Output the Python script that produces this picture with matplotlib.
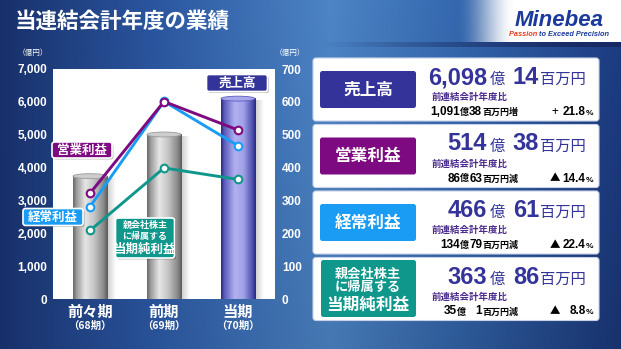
"""当連結会計年度の業績: 売上高(棒) と 各利益(折れ線) + 右側サマリー"""

import matplotlib
matplotlib.use('Agg')
import matplotlib.pyplot as plt
import numpy as np
from matplotlib.colors import LinearSegmentedColormap, to_rgb
from matplotlib.patches import Ellipse, FancyBboxPatch

plt.rcParams['font.family'] = ['Noto Sans CJK JP', 'DejaVu Sans']

W, H = 621, 349

# ---- data (億円) ----
periods = ['前々期', '前期', '当期']
period_nos = ['（68期）', '（69期）', '（70期）']
sales = [3739, 5007, 6098]
operating = [321.7, 601.0, 514.4]
ordinary = [281.0, 601.4, 466.6]
net_income = [208.5, 398.9, 363.9]

left_ticks = [0, 1000, 2000, 3000, 4000, 5000, 6000, 7000]
right_ticks = [0, 100, 200, 300, 400, 500, 600, 700]

card_labels = ['売上高', '営業利益', '経常利益', '当期純利益']
card_oku = ['6,098', '514', '466', '363']
card_man = ['14', '38', '61', '86']
diff_oku = ['1,091', '86', '134', '35']
diff_man = ['38', '63', '79', '1']
diff_word = ['増', '減', '減', '減']
diff_sign = ['+', '▲', '▲', '▲']
diff_pct = ['21.8', '14.4', '22.4', '8.8']

C_SALES = '#33339a'
C_OP = '#7d0a80'
C_ORD = '#1a9cf4'
C_NET = '#0f978c'
card_colors = [C_SALES, C_OP, C_ORD, C_NET]

fig = plt.figure(figsize=(W / 100, H / 100), dpi=100)

# ---- background ----
xs = np.arange(W)
stops_x = [0, 150, 330, 460, 621]
stops_c = [to_rgb(c) for c in ['#18306a', '#2a559e', '#4d85c6', '#3467ae', '#1d3c84']]
row = np.stack([np.interp(xs, stops_x, [c[k] for c in stops_c]) for k in range(3)], axis=1)
yy = np.linspace(0, 1, H)[:, None, None]
img = row[None, :, :] * (1.0 - 0.18 * yy * (xs[None, :, None] / W))
# white header behind the logo
fade = np.clip((xs - 455) / 60.0, 0, 1)
fade = fade * fade * (3 - 2 * fade)
img[:42] = img[:42] * (1 - fade[None, :, None]) + fade[None, :, None]
# thin dark band under the header, fading in from the middle
band_a = np.clip((xs - 320) / 260.0, 0, 1)[None, :, None] * 0.85
navy = np.array(to_rgb('#17275e'))
img[42:47] = img[42:47] * (1 - band_a) + navy * band_a

bg = fig.add_axes([0, 0, 1, 1], zorder=0)
bg.imshow(np.clip(img, 0, 1), extent=[0, W, H, 0], aspect='auto', interpolation='bilinear')
bg.set_xlim(0, W)
bg.set_ylim(H, 0)
bg.axis('off')

# ---- chart ----
ax = fig.add_axes([53 / W, 1 - 299 / H, 222 / W, 230 / H], zorder=1)
ax.set_facecolor('white')
ax.set_xlim(-0.5, 2.5)
ax.set_ylim(0, 7000)
for s in ax.spines.values():
    s.set_visible(False)

grey_cm = LinearSegmentedColormap.from_list('grey_cyl', [
    (0, '#6a6a6a'), (0.1, '#9c9c9c'), (0.35, '#e6e6e6'), (0.6, '#c6c6c6'),
    (0.88, '#8a8a8a'), (1, '#5c5c5c')])
blue_cm = LinearSegmentedColormap.from_list('blue_cyl', [
    (0, '#2e2e88'), (0.1, '#5e5ebe'), (0.4, '#b2b2f2'), (0.65, '#a0a0e6'),
    (0.88, '#5858b6'), (1, '#2a2a86')])
grad = np.linspace(0, 1, 64)[None, :]
shadow = np.zeros((1, 32, 4))
shadow[..., :3] = 0.55
shadow[..., 3] = np.linspace(0.45, 0, 32)

bw = 0.46
for i, v in enumerate(sales):
    cm = blue_cm if i == 2 else grey_cm
    ax.imshow(shadow, extent=[i + bw / 2, i + bw / 2 + 0.12, 0, v - 60],
              aspect='auto', interpolation='bilinear', zorder=1)
    ax.imshow(grad, cmap=cm, extent=[i - bw / 2, i + bw / 2, 0, v],
              aspect='auto', interpolation='bilinear', zorder=2)
    ax.add_patch(Ellipse((i, v), bw, 150, facecolor=cm(0.55), edgecolor=cm(0.1),
                         lw=0.6, zorder=3))
ax.set_xlim(-0.5, 2.5)
ax.set_ylim(0, 7000)

ax.set_xticks([])
ax.set_yticks(left_ticks)
ax.set_yticklabels([f'{t:,}' for t in left_ticks], family='Liberation Sans',
                   fontweight='bold', fontsize=8.5, color='white')
ax.tick_params(axis='y', length=0, pad=4)

for i, (p, n) in enumerate(zip(periods, period_nos)):
    ax.annotate(p, xy=(i, 0), xycoords=('data', 'axes fraction'), xytext=(0, -13),
                textcoords='offset pixels', ha='center', va='center', color='white',
                fontsize=11, fontweight='bold')
    ax.annotate(n, xy=(i, 0), xycoords=('data', 'axes fraction'), xytext=(0, -27),
                textcoords='offset pixels', ha='center', va='center', color='white',
                fontsize=7.5, fontweight='bold')

ax2 = ax.twinx()
ax2.set_zorder(2)
ax2.patch.set_visible(False)
ax2.set_ylim(0, 700)
for s in ax2.spines.values():
    s.set_visible(False)
ax2.set_yticks(right_ticks)
ax2.set_yticklabels([str(t) for t in right_ticks], family='Liberation Sans',
                    fontweight='bold', fontsize=8.5, color='white')
ax2.tick_params(axis='y', length=0, pad=5)

x = [0, 1, 2]
for vals, c in [(net_income, C_NET), (ordinary, C_ORD), (operating, C_OP)]:
    ax2.plot(x, vals, color=c, lw=2.1, marker='o', ms=5.5, mfc='white', mec=c,
             mew=1.5, zorder=5, solid_capstyle='round')

# ---- overlay in pixel coordinates ----
ov = fig.add_axes([0, 0, 1, 1], zorder=3)
ov.set_xlim(0, W)
ov.set_ylim(H, 0)
ov.axis('off')
ov.patch.set_alpha(0)

ov.text(15, 21, '当連結会計年度の業績', color='white', fontsize=15.5,
        fontweight='bold', va='center', ha='left')
ov.text(33, 53, '（億円）', color='white', fontsize=5.5, ha='center', va='center')
ov.text(290, 53, '（億円）', color='white', fontsize=5.5, ha='center', va='center')


def tag(cx, cy, w, h, color, lines):
    ov.add_patch(FancyBboxPatch((cx - w / 2 + 1.5, cy - h / 2 + 1.5), w, h,
                                boxstyle='round,pad=0,rounding_size=2.5',
                                facecolor='black', alpha=0.25, lw=0))
    ov.add_patch(FancyBboxPatch((cx - w / 2, cy - h / 2), w, h,
                                boxstyle='round,pad=0,rounding_size=2.5',
                                facecolor=color, edgecolor='white', lw=1.2))
    for dy, s, fs in lines:
        ov.text(cx, cy + dy, s, color='white', fontsize=fs, fontweight='bold',
                ha='center', va='center')


tag(237, 83, 61, 17, C_SALES, [(0, '売上高', 9)])
tag(82, 150, 60, 16, C_OP, [(0, '営業利益', 9)])
tag(53, 217, 60, 17, C_ORD, [(0, '経常利益', 9)])
tag(145, 238, 59, 40, C_NET, [(-13, '親会社株主', 6.5), (-1, 'に帰属する', 6.5),
                              (11, '当期純利益', 9)])

renderer = fig.canvas.get_renderer()


def chain(x, y, parts, ha='left', color='black'):
    """Draw text pieces of mixed size on one baseline."""
    items = []
    for s, fs, fam in parts:
        t = ov.text(0, y, s, fontsize=fs, family=fam, color=color,
                    fontweight='bold', va='baseline', ha='left')
        items.append((t, t.get_window_extent(renderer).width))
    total = sum(w for _, w in items)
    pos = x - total if ha == 'right' else x
    for t, w in items:
        t.set_x(pos)
        pos += w


JP = ['Noto Sans CJK JP', 'DejaVu Sans']
NUM = ['Liberation Sans', 'DejaVu Sans']

tops = [58, 124.5, 191, 257.5]
for k, top in enumerate(tops):
    ov.add_patch(FancyBboxPatch((313, top), 286, 63,
                                boxstyle='round,pad=0,rounding_size=3',
                                facecolor='white', edgecolor='#c8d2e6', lw=0.8))
    if k < 3:
        ov.add_patch(FancyBboxPatch((320, top + 13), 96, 37,
                                    boxstyle='round,pad=0,rounding_size=2.5',
                                    facecolor=card_colors[k], lw=0))
        ov.text(368, top + 31.5, card_labels[k], color='white', fontsize=12,
                fontweight='bold', ha='center', va='center')
    else:
        ov.add_patch(FancyBboxPatch((321, top + 2.5), 95, 57,
                                    boxstyle='round,pad=0,rounding_size=2.5',
                                    facecolor=card_colors[k], lw=0))
        ov.text(368, top + 16, '親会社株主', color='white', fontsize=9.5,
                fontweight='bold', ha='center', va='center')
        ov.text(368, top + 30, 'に帰属する', color='white', fontsize=9.5,
                fontweight='bold', ha='center', va='center')
        ov.text(368, top + 47, card_labels[k], color='white', fontsize=12,
                fontweight='bold', ha='center', va='center')

    base = top + 26
    ov.text(487, base, card_oku[k], color=C_SALES, fontsize=17, family=NUM,
            fontweight='bold', ha='right', va='baseline')
    ov.text(497.5, base, '億', color=C_SALES, fontsize=11, ha='center', va='baseline')
    ov.text(539, base, card_man[k], color=C_SALES, fontsize=17, family=NUM,
            fontweight='bold', ha='right', va='baseline')
    ov.text(540, base, '百万円', color=C_SALES, fontsize=11, ha='left', va='baseline')

    ov.text(432, top + 39, '前連結会計年度比', color='#4b2c8c', fontsize=6.8,
            fontweight='bold', ha='left', va='center')

    gap = '\u3000' if k == 3 else ''
    chain(518, top + 57, [(diff_oku[k], 8.5, NUM), ('億' + gap, 6.5, JP),
                          (diff_man[k], 8.5, NUM), ('百万円' + diff_word[k], 6.5, JP)],
          ha='right')
    ov.text(555, top + 57, diff_sign[k], fontsize=7.5 if k else 8.5, family=JP,
            ha='center', va='baseline', color='black')
    chain(593, top + 57, [(diff_pct[k], 8.5, NUM), ('%', 6, NUM)], ha='right')

# logo
ov.text(559, 20, 'Minebea', color='#1b3a9c', fontsize=16, family='Liberation Sans',
        fontweight='bold', style='italic', ha='center', va='center')
logo_parts = []
for s, c in [('Passion ', '#e2401c'), ('to Exceed Precision', '#1b3a9c')]:
    t = ov.text(0, 34, s, color=c, fontsize=5.3, family='Liberation Sans',
                fontweight='bold', style='italic', va='center')
    logo_parts.append((t, t.get_window_extent(renderer).width))
pos = 559 - sum(w for _, w in logo_parts) / 2
for t, w in logo_parts:
    t.set_x(pos)
    pos += w

fig.savefig('out.png', dpi=100)
